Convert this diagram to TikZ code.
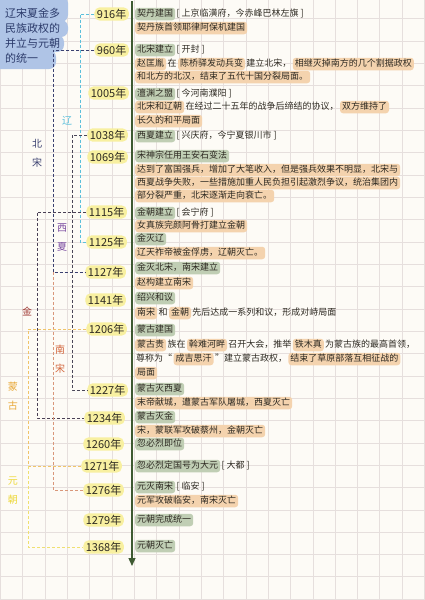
\documentclass[tikz,border=0pt]{standalone}
\usepackage{fontspec}
\setmainfont{Noto Sans CJK SC}
\usetikzlibrary{positioning,arrows.meta}

\definecolor{paper}{HTML}{FDFBF6}
\definecolor{gridgray}{HTML}{E6DFDD}
\definecolor{yearbg}{HTML}{F8F0A0}
\definecolor{evgreen}{HTML}{C0CEB4}
\definecolor{descor}{HTML}{F4D3AE}
\definecolor{titlebg}{HTML}{AFC4E6}
\definecolor{titleink}{HTML}{2C3B6B}
\definecolor{axisgreen}{HTML}{3E5A32}
\definecolor{ink}{HTML}{2E2A22}
\definecolor{liaoc}{HTML}{5BC0DC}
\definecolor{beisongc}{HTML}{3A4070}
\definecolor{xixiac}{HTML}{4A4658}
\definecolor{jinc}{HTML}{4A4055}
\definecolor{nansongc}{HTML}{D9977A}
\definecolor{mengguc}{HTML}{F0C46A}
\definecolor{yuanc}{HTML}{EFE070}
\definecolor{xixiatext}{HTML}{7A4AA0}
\definecolor{jintext}{HTML}{A03A35}
\definecolor{nansongtext}{HTML}{D2643A}
\definecolor{menggutext}{HTML}{E8A838}
\definecolor{yuantext}{HTML}{EDD83A}

\tikzset{
  yr/.style={fill=yearbg, rounded corners=5pt, inner xsep=2.5pt, inner ysep=1.5pt,
    font=\fontsize{11}{12}\selectfont, text=ink, anchor=east},
  ev/.style={fill=evgreen, rounded corners=3pt, inner xsep=2pt, inner ysep=2pt,
    font=\fontsize{9}{10}\selectfont, text=ink, text height=7pt, text depth=1.5pt},
  ds/.style={ev, fill=descor},
  pl/.style={ev, fill=none, inner xsep=1pt},
  dyn/.style={line width=0.8pt, dash pattern=on 3pt off 2pt},
  dynlabel/.style={font=\fontsize{10}{19}\selectfont, align=center, inner sep=0pt}
}

\begin{document}
\begin{tikzpicture}[x=1pt,y=-1pt]
  \useasboundingbox (0,0) rectangle (424,600);
  \fill[paper] (0,0) rectangle (424,600);
  \foreach \i in {0,...,19} \draw[gridgray, line width=0.5pt] (0.3+22.32*\i,0) -- (0.3+22.32*\i,600);
  \foreach \j in {1,...,27} \draw[gridgray, line width=0.5pt] (0,-3.6+22.32*\j) -- (424,-3.6+22.32*\j);

  %% Title
  \fill[titlebg, rounded corners=7pt] (-8,-4) rectangle (68,22);
  \fill[titlebg, rounded corners=7pt] (-8,20) rectangle (68,37);
  \fill[titlebg, rounded corners=7pt] (-8,35) rectangle (64,52);
  \fill[titlebg, rounded corners=7pt] (-8,50) rectangle (56,69);
  \node[anchor=north west, inner sep=0pt, align=left, text=titleink,
    font=\fontsize{11}{15}\selectfont] (title) at (5,8) {辽宋夏金多\\民族政权的\\并立与元朝\\的统一};

  %% Axis
  \coordinate (axtop) at (132,1);
  \coordinate (axbot) at (132,566);
  \draw[axisgreen, line width=1.3pt, -{Triangle[length=8pt,width=7pt]}] (axtop) -- (axbot);

  %% Years
  \node[yr] (y916) at (129,14) {916年};
  \node[yr] (y960) at (129,50) {960年};
  \node[yr] (y1005) at (129,93) {1005年};
  \node[yr] (y1038) at (128,135) {1038年};
  \node[yr] (y1069) at (128,157) {1069年};
  \node[yr] (y1115) at (127,212) {1115年};
  \node[yr] (y1125) at (127,242) {1125年};
  \node[yr] (y1127) at (126,272) {1127年};
  \node[yr] (y1141) at (126,300) {1141年};
  \node[yr] (y1206) at (127,329) {1206年};
  \node[yr] (y1227) at (128,390) {1227年};
  \node[yr] (y1234) at (125,418) {1234年};
  \node[yr] (y1260) at (124,444) {1260年};
  \node[yr] (y1271) at (122,466) {1271年};
  \node[yr] (y1276) at (124,490) {1276年};
  \node[yr] (y1279) at (124,520) {1279年};
  \node[yr] (y1368) at (124,547) {1368年};

  %% Events
  \node[ev, anchor=west] (e916a) at (135,14) {契丹建国};
  \node[pl, right=0pt of e916a] (e916b) {[ 上京临潢府，今赤峰巴林左旗 ]};
  \node[ds, anchor=west] (e916c) at (135,28) {契丹族首领耶律阿保机建国};

  \node[ev, anchor=west] (e960a) at (135,50) {北宋建立};
  \node[pl, right=0pt of e960a] (e960b) {[ 开封 ]};
  \node[ds, anchor=west] (e960c) at (135,64) {赵匡胤};
  \node[pl, right=0pt of e960c] (e960d) {在};
  \node[ds, right=0pt of e960d] (e960e) {陈桥驿发动兵变};
  \node[pl, right=0pt of e960e] (e960f) {建立北宋，};
  \node[ds, right=0pt of e960f] (e960g) {相继灭掉南方的几个割据政权};
  \node[ds, anchor=west] (e960h) at (135,77) {和北方的北汉，结束了五代十国分裂局面。};

  \node[ev, anchor=west] (e1005a) at (135,94) {澶渊之盟};
  \node[pl, right=0pt of e1005a] (e1005b) {[ 今河南濮阳 ]};
  \node[ds, anchor=west] (e1005c) at (135,107) {北宋和辽朝};
  \node[pl, right=0pt of e1005c] (e1005d) {在经过二十五年的战争后缔结的协议，};
  \node[ds, right=0pt of e1005d] (e1005e) {双方维持了};
  \node[ds, anchor=west] (e1005f) at (135,121) {长久的和平局面};

  \node[ev, anchor=west] (e1038a) at (135,136) {西夏建立};
  \node[pl, right=0pt of e1038a] (e1038b) {[ 兴庆府，今宁夏银川市 ]};

  \node[ev, anchor=west] (e1069a) at (135,156) {宋神宗任用王安石变法};
  \node[ds, anchor=west] (e1069b) at (135,170) {达到了富国强兵，增加了大笔收入，但是强兵效果不明显，北宋与};
  \node[ds, anchor=west] (e1069c) at (135,183) {西夏战争失败，一些措施加重人民负担引起激烈争议，统治集团内};
  \node[ds, anchor=west] (e1069d) at (135,196) {部分裂严重，北宋逐渐走向衰亡。};

  \node[ev, anchor=west] (e1115a) at (135,213) {金朝建立};
  \node[pl, right=0pt of e1115a] (e1115b) {[ 会宁府 ]};
  \node[ds, anchor=west] (e1115c) at (135,226) {女真族完颜阿骨打建立金朝};

  \node[ev, anchor=west] (e1125a) at (135,239) {金灭辽};
  \node[ds, anchor=west] (e1125b) at (135,253) {辽天祚帝被金俘虏，辽朝灭亡。};

  \node[ev, anchor=west] (e1127a) at (135,268) {金灭北宋，南宋建立};
  \node[ds, anchor=west] (e1127b) at (135,283) {赵构建立南宋};

  \node[ev, anchor=west] (e1141a) at (135,298) {绍兴和议};
  \node[ds, anchor=west] (e1141b) at (135,313) {南宋};
  \node[pl, right=0pt of e1141b] (e1141c) {和};
  \node[ds, right=0pt of e1141c] (e1141d) {金朝};
  \node[pl, right=0pt of e1141d] (e1141e) {先后达成一系列和议，形成对峙局面};

  \node[ev, anchor=west] (e1206a) at (135,330) {蒙古建国};
  \node[ds, anchor=west] (e1206b) at (135,345) {蒙古贵};
  \node[pl, right=0pt of e1206b] (e1206c) {族在};
  \node[ds, right=0pt of e1206c] (e1206d) {斡难河畔};
  \node[pl, right=0pt of e1206d] (e1206e) {召开大会，推举};
  \node[ds, right=0pt of e1206e] (e1206f) {铁木真};
  \node[pl, right=0pt of e1206f] (e1206g) {为蒙古族的最高首领，};
  \node[pl, anchor=west] (e1206h) at (135,359) {尊称为“};
  \node[ds, right=0pt of e1206h] (e1206i) {成吉思汗};
  \node[pl, right=0pt of e1206i] (e1206j) {”建立蒙古政权，};
  \node[ds, right=0pt of e1206j] (e1206k) {结束了草原部落互相征战的};
  \node[ds, anchor=west] (e1206l) at (135,373) {局面};

  \node[ev, anchor=west] (e1227a) at (135,389) {蒙古灭西夏};
  \node[ds, anchor=west] (e1227b) at (135,403) {末帝献城，遭蒙古军队屠城，西夏灭亡};

  \node[ev, anchor=west] (e1234a) at (135,417) {蒙古灭金};
  \node[ds, anchor=west] (e1234b) at (135,431) {宋，蒙联军攻破蔡州，金朝灭亡};

  \node[ev, anchor=west] (e1260a) at (135,444) {忽必烈即位};

  \node[ev, anchor=west] (e1271a) at (135,466) {忽必烈定国号为大元};
  \node[pl, right=0pt of e1271a] (e1271b) {[ 大都 ]};

  \node[ev, anchor=west] (e1276a) at (135,487) {元灭南宋};
  \node[pl, right=0pt of e1276a] (e1276b) {[ 临安 ]};
  \node[ds, anchor=west] (e1276c) at (135,501) {元军攻破临安，南宋灭亡};

  \node[ev, anchor=west] (e1279a) at (135,520) {元朝完成统一};

  \node[ev, anchor=west] (e1368a) at (135,546) {元朝灭亡};

  %% Dynasty spans
  \coordinate (liaoX) at (80,0);
  \coordinate (beisongX) at (53,0);
  \coordinate (xixiaX) at (72,0);
  \coordinate (jinX) at (37,0);
  \coordinate (mengguX) at (28,0);

  \draw[dyn, liaoc] (y916.west) -- (y916.west -| liaoX) -- (y1125.west -| liaoX) -- (y1125.west);
  \draw[dyn, beisongc] (y960.west) -- (y960.west -| beisongX) -- (y1127.west -| beisongX) -- (y1127.west);
  \draw[dyn, xixiac] (y1038.west) -- (y1038.west -| xixiaX) -- (y1227.west -| xixiaX) -- (y1227.west);
  \draw[dyn, jinc] (y1115.west) -- (y1115.west -| jinX) -- (y1234.west -| jinX) -- (y1234.west);
  \draw[dyn, nansongc] (y1127.west -| beisongX) -- (y1276.west -| beisongX) -- (y1276.west);
  \draw[dyn, mengguc] (y1206.west) -- (y1206.west -| mengguX) -- (y1271.west -| mengguX) -- (y1271.west);
  \draw[dyn, yuanc] (y1271.west -| mengguX) -- (y1368.west -| mengguX) -- (y1368.west);

  \node[dynlabel, text=liaoc] (lliao) at (67,121) {辽};
  \node[dynlabel, text=beisongc] (lbeisong) at (37,153) {北\\宋};
  \node[dynlabel, text=xixiatext] (lxixia) at (62,238) {西\\夏};
  \node[dynlabel, text=jintext] (ljin) at (27,312) {金};
  \node[dynlabel, text=nansongtext] (lnansong) at (60,359) {南\\宋};
  \node[dynlabel, text=menggutext] (lmenggu) at (13,396) {蒙\\古};
  \node[dynlabel, text=yuantext] (lyuan) at (13,491) {元\\朝};

\end{tikzpicture}
\end{document}
